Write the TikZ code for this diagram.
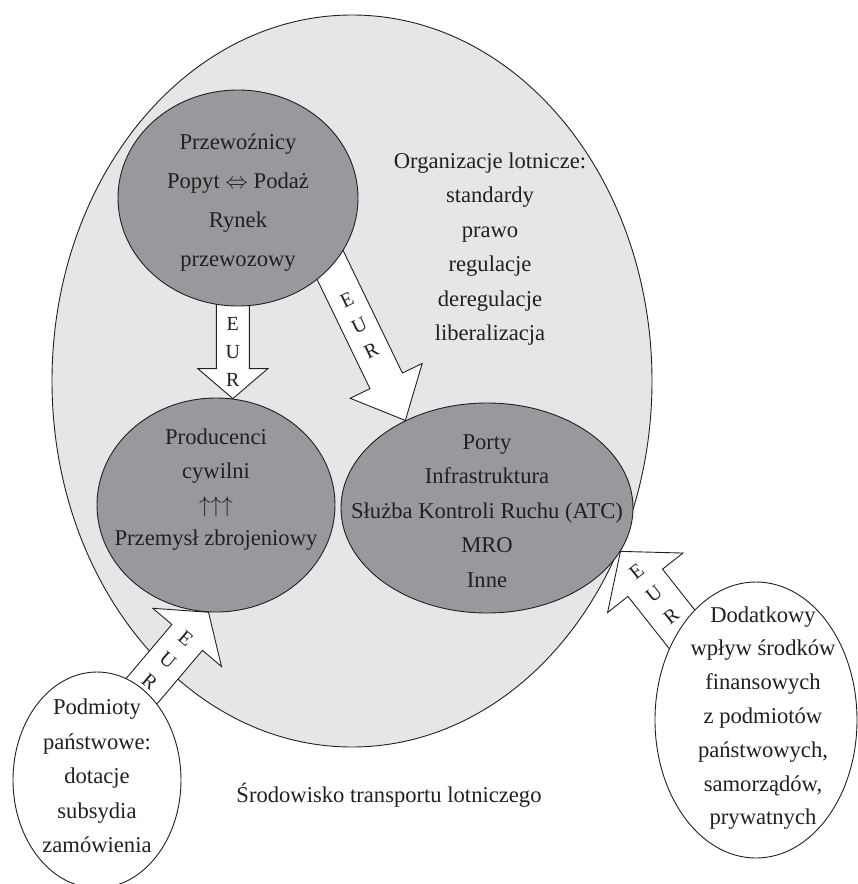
\documentclass[tikz,border=0pt]{standalone}
\usepackage{fix-cm}
\usepackage{fontspec}
\setmainfont{Liberation Serif}
\usetikzlibrary{shapes.geometric,calc}

\definecolor{envgray}{RGB}{229,230,232}
\definecolor{nodegray}{RGB}{152,153,156}
\definecolor{inkgray}{RGB}{35,31,32}

\pgfdeclarelayer{bg}
\pgfdeclarelayer{arrows}
\pgfsetlayers{bg,arrows,main}

\tikzset{
  blob/.style={ellipse, draw=inkgray, line width=0.9pt, inner sep=0pt},
  env/.style={blob, fill=envgray},
  actor/.style={blob, fill=nodegray},
  source/.style={blob, fill=white},
  txt/.style={align=center, text=inkgray, inner sep=0pt, font=\fontsize{22.6}{34.5}\selectfont},
  eurbox/.style={draw=inkgray, fill=white, line width=0.9pt, line join=miter},
  eurtext/.style={align=center, text=inkgray, inner sep=0pt, font=\fontsize{20}{28}\selectfont},
}

% block arrow: tail, tip, half shaft, half head, head length, letter turn, letters back from tip
\newcommand{\eurarrow}[7]{%
  \draw[eurbox] let \p1=(#1), \p2=(#2), \n1={atan2(\y2-\y1,\x2-\x1)} in
    ($(\p1)+(\n1+90:#3)$) -- ($(\p2)+(\n1:-#5)+(\n1+90:#3)$)
    -- ($(\p2)+(\n1:-#5)+(\n1+90:#4)$) -- (\p2)
    -- ($(\p2)+(\n1:-#5)+(\n1-90:#4)$) -- ($(\p2)+(\n1:-#5)+(\n1-90:#3)$)
    -- ($(\p1)+(\n1-90:#3)$) -- cycle
    ($(\p2)+(\n1:-#7)$) node[eurtext, rotate=\n1#6] {E\\U\\R};
}

\begin{document}
\begin{tikzpicture}[x=1pt, y=-1pt]
\useasboundingbox (0,0) rectangle (858,884);

\begin{pgfonlayer}{bg}
\node[env, minimum width=600pt, minimum height=732pt] (env) at (352,381) {};
\end{pgfonlayer}

% market players
\node[actor, minimum width=240pt, minimum height=216pt] (carriers) at (238,198) {};
\node[actor, minimum width=238pt, minimum height=214pt] (producers) at (216,505) {};
\node[actor, minimum width=292pt, minimum height=210pt] (ports) at (487,508) {};

% money from outside
\node[source, minimum width=168pt, minimum height=216pt] (state) at (97,780) {};
\node[source, minimum width=202pt, minimum height=276pt] (extra) at (756,720) {};

\node[txt, font=\fontsize{22.6}{39}\selectfont] (carrierstxt) at (238,203)
  {Przewoźnicy\\Popyt $\Leftrightarrow$ Podaż\\Rynek\\przewozowy};
\node[txt] (orgtxt) at (490,249)
  {Organizacje lotnicze:\\standardy\\prawo\\regulacje\\deregulacje\\liberalizacja};
\node[txt, font=\fontsize{22.6}{33.7}\selectfont] (producerstxt) at (216,490)
  {Producenci\\cywilni\\$\uparrow\uparrow\uparrow$\\Przemysł zbrojeniowy};
\node[txt] (portstxt) at (487,511)
  {Porty\\Infrastruktura\\Służba Kontroli Ruchu (ATC)\\MRO\\Inne};
\node[txt] (statetxt) at (97,776)
  {Podmioty\\państwowe:\\dotacje\\subsydia\\zamówienia};
\node[txt, font=\fontsize{22.6}{33.8}\selectfont] (extratxt) at (763,718)
  {Dodatkowy\\wpływ środków\\finansowych\\z podmiotów\\państwowych,\\samorządów,\\prywatnych};
\node[txt] (envtxt) at (389,795) {Środowisko transportu lotniczego};

\coordinate (tailA) at (producers.81 |- carriers.center);
\coordinate (tailB) at ($(carriers.center)+(81,44)$);
\coordinate (tailC) at ($(state.center)+(21,-61)$);
\coordinate (tailD) at ($(extra.center)+(-49,-59)$);

\begin{pgfonlayer}{arrows}
\eurarrow{tailA}{producers.81}{16.5pt}{35pt}{30pt}{+90}{47pt}
\eurarrow{tailB}{ports.133}{18pt}{40pt}{44pt}{+90}{106pt}
\eurarrow{tailC}{producers.266}{20pt}{45pt}{33pt}{-90}{63pt}
\eurarrow{tailD}{ports.-18}{22pt}{48pt}{40pt}{-90}{54pt}
\end{pgfonlayer}
\end{tikzpicture}
\end{document}
